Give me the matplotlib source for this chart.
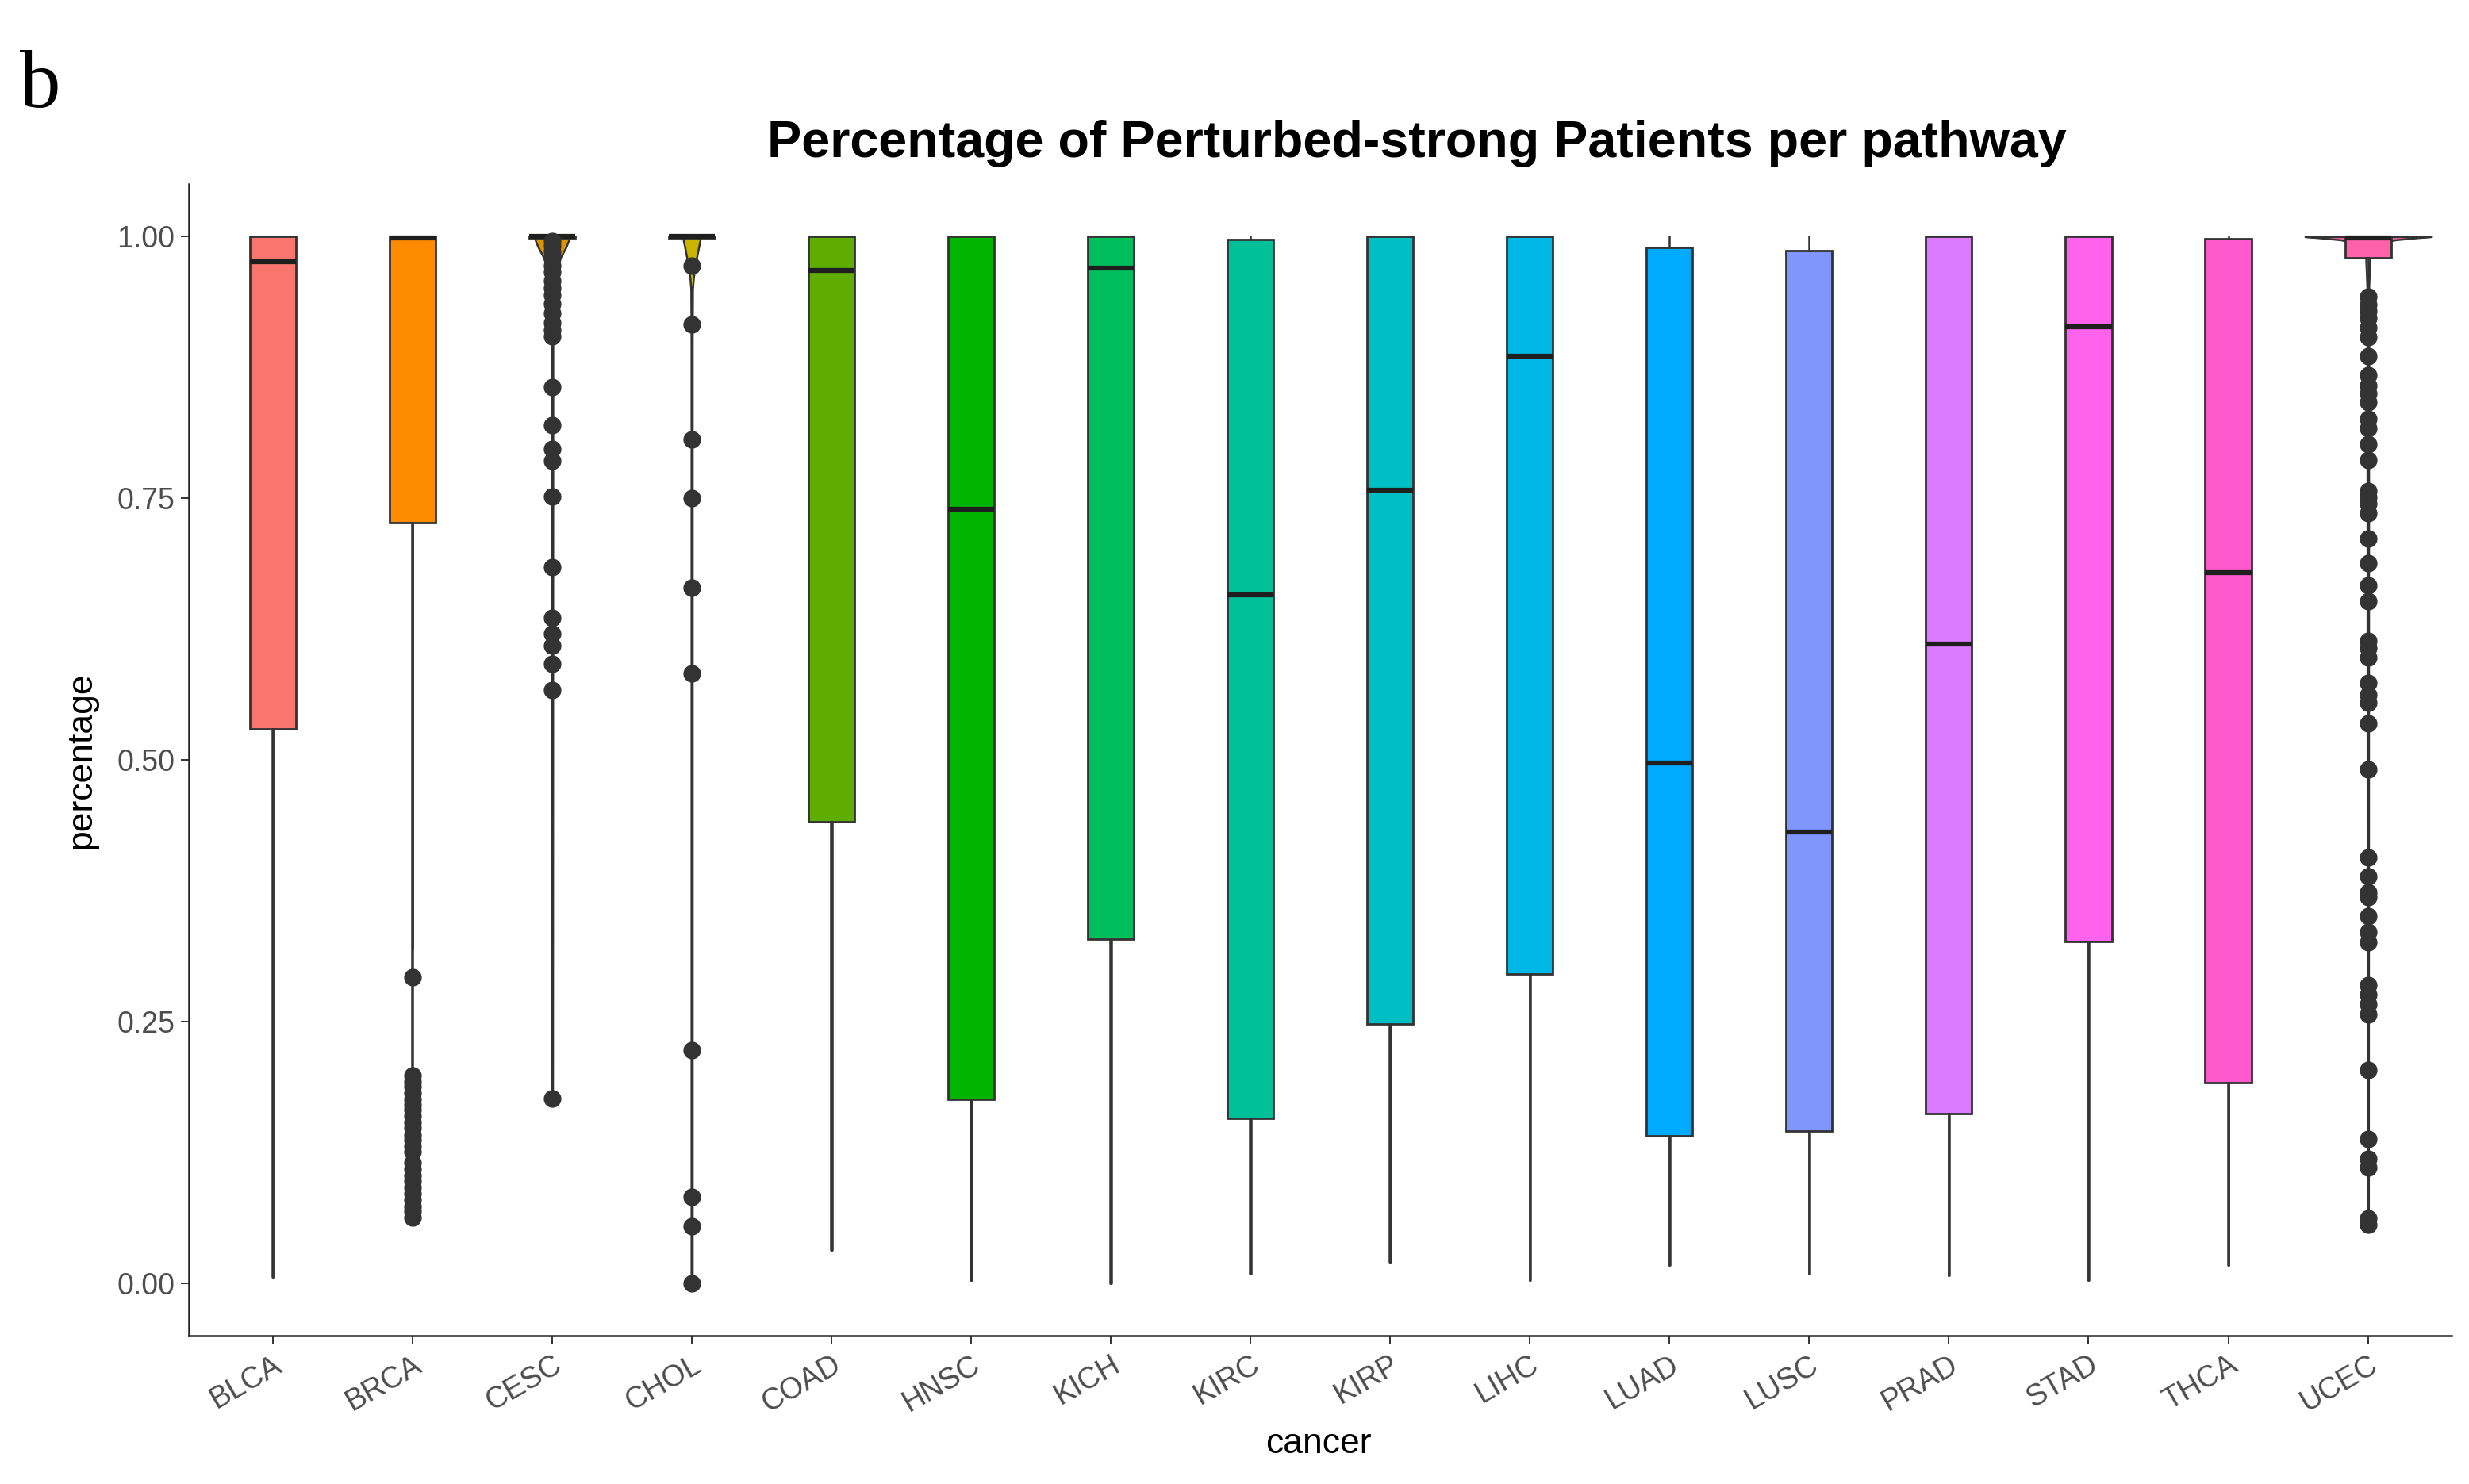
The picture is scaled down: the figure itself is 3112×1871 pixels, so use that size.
import numpy as np
import matplotlib.pyplot as plt

plt.rcParams['font.family'] = ['Liberation Sans', 'DejaVu Sans']

# categories and box statistics
cancers = ["BLCA", "BRCA", "CESC", "CHOL", "COAD", "HNSC", "KICH", "KIRC",
           "KIRP", "LIHC", "LUAD", "LUSC", "PRAD", "STAD", "THCA", "UCEC"]
colors = ["#F8766D", "#FF8B00", "#DE9500", "#C9B400", "#5FAD00", "#00B400",
          "#00BE5C", "#00C09A", "#00BFC4", "#00B8E7", "#00AAFF", "#7F96FF",
          "#DB7BFF", "#FF62EC", "#FF5ACD", "#FF62A8"]
q1 = [0.530, 0.727, 0.999, 0.999, 0.441, 0.176, 0.329, 0.158,
      0.248, 0.296, 0.141, 0.146, 0.162, 0.327, 0.192, 0.980]
med = [0.976, 0.999, 1.000, 1.000, 0.968, 0.740, 0.970, 0.658,
       0.758, 0.886, 0.497, 0.431, 0.611, 0.914, 0.679, 0.999]
q3 = [1.000, 1.000, 1.000, 1.000, 1.000, 1.000, 1.000, 0.997,
      1.000, 1.000, 0.990, 0.987, 1.000, 1.000, 0.998, 1.000]
whis_lo = [0.006, 0.320, 0.999, 0.999, 0.032, 0.003, 0.000, 0.009,
           0.021, 0.003, 0.018, 0.009, 0.008, 0.003, 0.018, 0.952]
whis_hi = [1.0] * 16
# lowest value of each distribution (bottom of the violin)
data_min = [0.006, 0.063, 0.177, 0.000, 0.032, 0.003, 0.000, 0.009,
            0.021, 0.003, 0.018, 0.009, 0.008, 0.003, 0.018, 0.055]

fliers = {
    "BRCA": [0.293, 0.199, 0.193, 0.188, 0.182, 0.176, 0.171, 0.166, 0.160,
             0.154, 0.149, 0.142, 0.137, 0.131, 0.126, 0.115, 0.109, 0.103,
             0.098, 0.092, 0.086, 0.080, 0.074, 0.069, 0.063],
    "CESC": [0.996, 0.991, 0.986, 0.979, 0.972, 0.966, 0.958, 0.951, 0.944,
             0.936, 0.927, 0.918, 0.911, 0.905, 0.856, 0.820, 0.797, 0.786,
             0.752, 0.684, 0.636, 0.621, 0.609, 0.592, 0.567, 0.177],
    "CHOL": [0.972, 0.916, 0.806, 0.750, 0.665, 0.583, 0.223, 0.083,
             0.055, 0.000],
    "UCEC": [0.943, 0.935, 0.929, 0.922, 0.913, 0.904, 0.886, 0.868, 0.858,
             0.850, 0.842, 0.826, 0.817, 0.802, 0.787, 0.757, 0.751, 0.745,
             0.736, 0.712, 0.688, 0.667, 0.652, 0.614, 0.607, 0.598, 0.574,
             0.562, 0.555, 0.535, 0.491, 0.407, 0.389, 0.374, 0.369, 0.351,
             0.336, 0.326, 0.285, 0.276, 0.267, 0.257, 0.204, 0.138, 0.119,
             0.111, 0.062, 0.056],
}

# violin density near the top, where the data pile up at 1.0
violin_y = {
    "CESC": [0.177, 0.90, 0.95, 0.97, 0.98, 0.99, 1.0],
    "CHOL": [0.000, 0.90, 0.95, 0.96, 0.97, 0.98, 0.99, 1.0],
    "UCEC": [0.055, 0.95, 0.98, 0.99, 0.994, 0.997, 0.999, 1.0],
}
violin_dens = {
    "CESC": [0.004, 0.006, 0.012, 0.03, 0.06, 0.10, 0.13],
    "CHOL": [0.004, 0.004, 0.006, 0.012, 0.022, 0.035, 0.05, 0.065],
    "UCEC": [0.004, 0.006, 0.015, 0.03, 0.08, 0.2, 0.36, 0.45],
}

dark = "#333333"
positions = np.arange(1, len(cancers) + 1)

fig = plt.figure(figsize=(31.12, 18.71), dpi=100)
ax = fig.add_axes([0.0765, 0.0998, 0.9165, 0.776])

# violins (mostly thin lines)
vpstats = []
vwidths = []
for i, c in enumerate(cancers):
    if c in violin_y:
        coords = np.array(violin_y[c])
        vals = np.array(violin_dens[c])
    else:
        coords = np.array([data_min[i], q3[i]])
        vals = np.array([0.004, 0.004])
    vpstats.append({"coords": coords, "vals": vals, "mean": med[i],
                    "median": med[i], "min": coords.min(), "max": coords.max()})
    vwidths.append(2 * vals.max())
parts = ax.violin(vpstats, positions=positions, widths=vwidths,
                  showmeans=False, showextrema=False, showmedians=False)
for body, col in zip(parts["bodies"], colors):
    body.set_facecolor(col)
    body.set_edgecolor(dark)
    body.set_linewidth(1.8)
    body.set_alpha(1)
    body.set_zorder(1)

# boxes
stats = []
for i, c in enumerate(cancers):
    stats.append({"label": c, "q1": q1[i], "med": med[i], "q3": q3[i],
                  "whislo": whis_lo[i], "whishi": whis_hi[i],
                  "fliers": fliers.get(c, [])})
bp = ax.bxp(stats, positions=positions, widths=0.33, patch_artist=True,
            showcaps=False, showfliers=True,
            boxprops=dict(edgecolor=dark, linewidth=2.0),
            whiskerprops=dict(color=dark, linewidth=1.8),
            medianprops=dict(color="#1f1f1f", linewidth=4.5),
            flierprops=dict(marker="o", markerfacecolor=dark,
                            markeredgecolor=dark, markersize=15))
for patch, col in zip(bp["boxes"], colors):
    patch.set_facecolor(col)
    patch.set_zorder(2)
for m in bp["medians"]:
    m.set_zorder(3)
for f in bp["fliers"]:
    f.set_zorder(4)

ax.set_xlim(0.4, len(cancers) + 0.6)
ax.set_ylim(-0.05, 1.05)
ax.set_yticks([0.0, 0.25, 0.5, 0.75, 1.0])
ax.set_yticklabels(["0.00", "0.25", "0.50", "0.75", "1.00"])
ax.set_xticks(positions)
ax.set_xticklabels(cancers, rotation=30, ha="right", rotation_mode="anchor")

for side in ["top", "right"]:
    ax.spines[side].set_visible(False)
for side in ["left", "bottom"]:
    ax.spines[side].set_linewidth(1.8)
    ax.spines[side].set_color("#222222")
ax.tick_params(axis="both", colors="#333333", length=7, width=1.4,
               labelsize=27, labelcolor="#4D4D4D", pad=6)

fig.text(0.033, 0.4875, "percentage", rotation=90, ha="center", va="center",
         fontsize=32)
fig.text(0.534, 0.027, "cancer", ha="center", va="center", fontsize=32)
fig.text(0.574, 0.9035, "Percentage of Perturbed-strong Patients per pathway",
         ha="center", va="center", fontsize=46.5, fontweight="bold")
fig.text(0.008, 0.928, "b", family=["Liberation Serif", "DejaVu Serif"],
         fontsize=74, ha="left", va="baseline")

fig.savefig("out.png", dpi=100, facecolor="white")
